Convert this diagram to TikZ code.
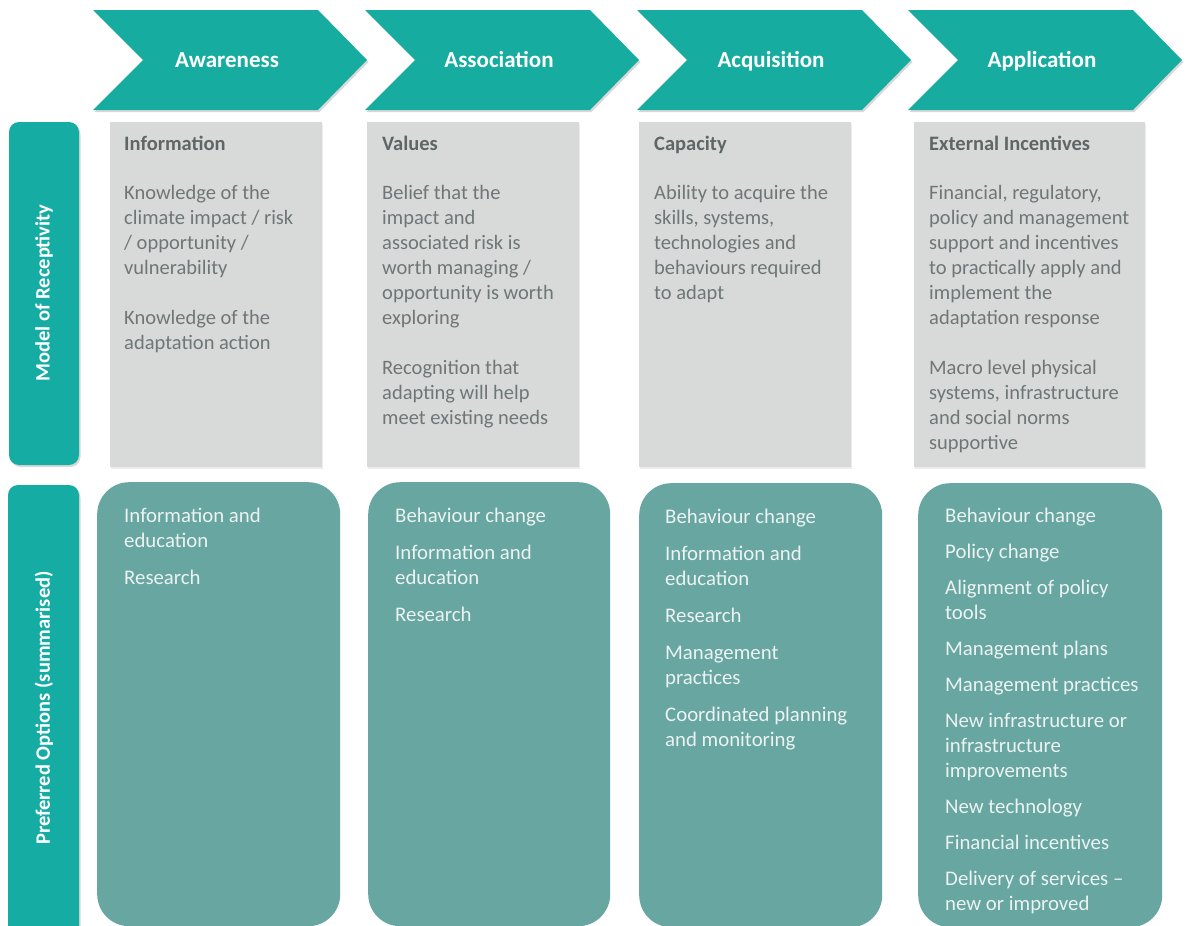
\documentclass[tikz,border=0pt]{standalone}
\usepackage{fontspec}
\setmainfont{Carlito}
\usetikzlibrary{shadows}
\definecolor{chevteal}{RGB}{22,173,160}
\definecolor{barteal}{RGB}{21,172,163}
\definecolor{optteal}{RGB}{103,166,161}
\definecolor{boxgrey}{RGB}{216,218,218}
\definecolor{txtgrey}{RGB}{110,118,118}
\definecolor{hdgrey}{RGB}{94,102,102}
\definecolor{opttext}{RGB}{236,243,242}
\begin{document}
\begin{tikzpicture}[x=1pt, y=-1pt,
    chev/.style = {fill=chevteal, drop shadow={opacity=.3, shadow xshift=1.5pt, shadow yshift=-2pt}},
    chevtext/.style = {text=white, anchor=base, font=\fontsize{23}{27}\selectfont\bfseries},
    sidebar/.style = {fill=barteal, rounded corners=10pt, drop shadow={opacity=.3, shadow xshift=1.5pt, shadow yshift=-2pt}},
    sidetext/.style = {text=white, rotate=90, font=\fontsize{20.5}{24}\selectfont\bfseries},
    greybox/.style = {fill=boxgrey, inner sep=0, anchor=north west, minimum height=345pt,
      drop shadow={opacity=.15, shadow xshift=1pt, shadow yshift=-1.5pt}},
    optbox/.style = {fill=optteal, inner sep=0, anchor=north west, rounded corners=32pt, minimum height=444pt},
    heading/.style = {text=hdgrey, anchor=north west, inner sep=0, font=\fontsize{20.5}{25}\selectfont\bfseries},
    body/.style = {text=txtgrey, anchor=north west, inner sep=0, align=left, font=\fontsize{20.5}{25}\selectfont},
    opt/.style = {text=opttext, anchor=north west, inner sep=0, align=left, font=\fontsize{20.8}{25}\selectfont}]
        \useasboundingbox (0,0) rectangle (1187,926);

        % Chevrons
        \foreach \x/\name/\lbl in {93/aware/Awareness, 365/assoc/Association, 637/acqui/Acquisition, 908/appli/Application} {
            \path[chev] (\x,10) -- ++(225,0) -- ++(49,50) -- ++(-49,50) -- ++(-225,0) -- ++(50,-50) -- cycle;
            \node[chevtext] (\name) at (\x+134,67) {\lbl};
        }

        % Side bars
        \path[sidebar] (9,122) rectangle (79,465);
        \node[sidetext] (model) at (44,293) {Model of Receptivity};
        \path[sidebar] (8,485) rectangle (79,945);
        \node[sidetext] (pref) at (44,708) {Preferred Options (summarised)};

        % Model of receptivity
        \node[greybox, minimum width=212pt] (info)  at (110,122) {};
        \node[greybox, minimum width=212pt] (value) at (367,122) {};
        \node[greybox, minimum width=212pt] (capa)  at (639,122) {};
        \node[greybox, minimum width=231pt] (incen) at (914,122) {};

        \node[heading] (infohd)  at (124,136) {Information};
        \node[heading] (valuehd) at (382,136) {Values};
        \node[heading] (capahd)  at (654,136) {Capacity};
        \node[heading] (incenhd) at (929,136) {External Incentives};

        \node[body] (infotx) at (124,185) {Knowledge of the\\climate impact / risk\\/ opportunity /\\vulnerability\\[25pt]Knowledge of the\\adaptation action};
        \node[body] (valuetx) at (382,185) {Belief that the\\impact and\\associated risk is\\worth managing /\\opportunity is worth\\exploring\\[25pt]Recognition that\\adapting will help\\meet existing needs};
        \node[body] (capatx) at (654,185) {Ability to acquire the\\skills, systems,\\technologies and\\behaviours required\\to adapt};
        \node[body] (incentx) at (929,185) {Financial, regulatory,\\policy and management\\support and incentives\\to practically apply and\\implement the\\adaptation response\\[25pt]Macro level physical\\systems, infrastructure\\and social norms\\supportive};

        % Preferred options
        \node[optbox, minimum width=243pt] (opt1) at (97,482) {};
        \node[optbox, minimum width=242pt] (opt2) at (368,482) {};
        \node[optbox, minimum width=243pt] (opt3) at (639,483) {};
        \node[optbox, minimum width=244pt] (opt4) at (918,483) {};

        \node[opt] (opt1tx) at (124,508) {Information and\\education\\[12pt]Research};
        \node[opt] (opt2tx) at (395,508) {Behaviour change\\[12pt]Information and\\education\\[12pt]Research};
        \node[opt] (opt3tx) at (665,509) {Behaviour change\\[12pt]Information and\\education\\[12pt]Research\\[12pt]Management\\practices\\[12pt]Coordinated planning\\and monitoring};
        \node[opt] (opt4tx) at (945,508) {Behaviour change\\[11pt]Policy change\\[11pt]Alignment of policy\\tools\\[11pt]Management plans\\[11pt]Management practices\\[11pt]New infrastructure or\\infrastructure\\improvements\\[11pt]New technology\\[11pt]Financial incentives\\[11pt]Delivery of services --\\new or improved};
      \end{tikzpicture}
\end{document}
